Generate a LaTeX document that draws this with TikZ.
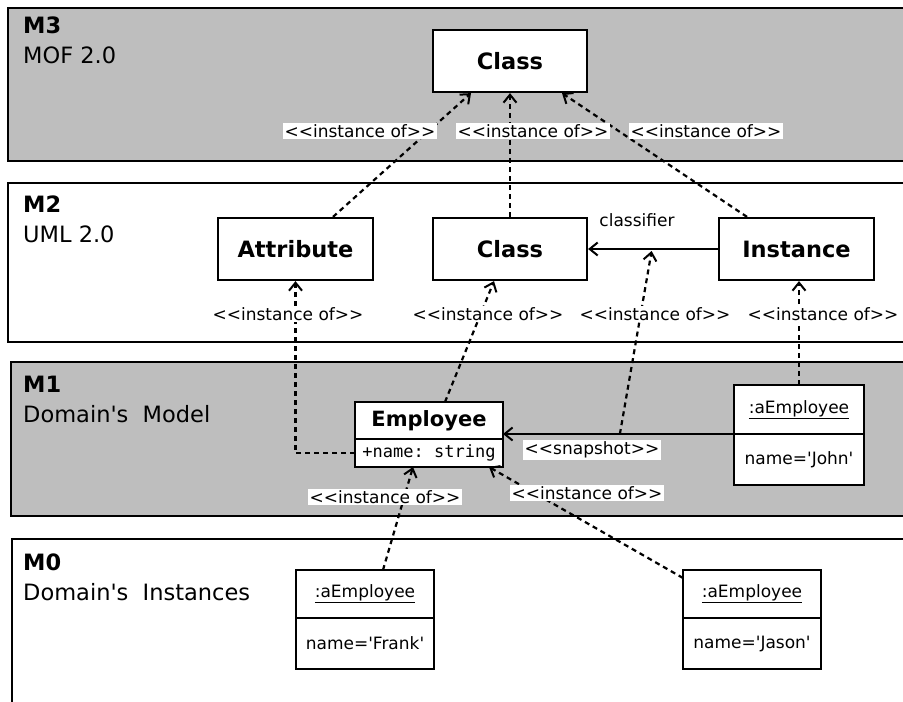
\documentclass[tikz,border=0pt]{standalone}
\usepackage{fontspec}
\setmainfont{DejaVu Sans}[Ligatures=TeXOff]
\setmonofont{DejaVu Sans Mono}[Ligatures=TeXOff]
\usetikzlibrary{arrows.meta,calc}
\definecolor{bandgray}{RGB}{190,190,190}
\tikzset{
  band/.style={draw=black,line width=2.5pt},
  bigbox/.style={draw=black,fill=white,line width=2.2pt,minimum width=154pt,minimum height=62pt,inner sep=0pt,font=\fontsize{22.5}{27}\selectfont\bfseries},
  objpart/.style={draw=black,fill=white,line width=2.2pt,inner sep=0pt,outer sep=0pt,font=\fontsize{17}{20}\selectfont},
  head/.style={anchor=base west,inner sep=0pt,font=\fontsize{22.5}{27}\selectfont},
  lbl/.style={fill=white,inner xsep=2pt,inner ysep=1.5pt,font=\fontsize{17}{20}\selectfont},
  plainlbl/.style={inner sep=0pt,font=\fontsize{17}{20}\selectfont},
  tipv/.style={-{Straight Barb[length=8pt,width=13pt,line width=2pt]}},
  dep/.style={tipv,line width=2.2pt,dash pattern=on 5pt off 4pt},
  assoc/.style={tipv,line width=2.2pt}
}
\begin{document}
\begin{tikzpicture}[x=1pt,y=-1pt]
\clip (0,0) rectangle (903,702);
\fill[white] (0,0) rectangle (903,702);
% bands
\draw[band,fill=bandgray] (8,8) rectangle (920,161);
\draw[band,fill=white] (8,183) rectangle (920,342);
\draw[band,fill=bandgray] (11,362) rectangle (920,516);
\draw[band,fill=white] (12,539) rectangle (920,720);
% headings
\node[head,font=\fontsize{22.5}{27}\selectfont\bfseries] (m3) at (23,33) {M3};
\node[head] (m3t) at (23,63) {MOF 2.0};
\node[head,font=\fontsize{22.5}{27}\selectfont\bfseries] (m2) at (23,212) {M2};
\node[head] (m2t) at (23,242) {UML 2.0};
\node[head,font=\fontsize{22.5}{27}\selectfont\bfseries] (m1) at (23,392) {M1};
\node[head] (m1t) at (23,422) {Domain's\ \ Model};
\node[head,font=\fontsize{22.5}{27}\selectfont\bfseries] (m0) at (23,570) {M0};
\node[head] (m0t) at (23,600) {Domain's\ \ Instances};
% M3 / M2 boxes
\node[bigbox] (class3) at (510,61) {Class};
\node[bigbox,minimum width=155pt] (attr) at (295.5,249) {Attribute};
\node[bigbox] (class2) at (510,249) {Class};
\node[bigbox,minimum width=155pt] (inst) at (796.5,249) {Instance};
% Employee class
\node[objpart,minimum width=148pt,minimum height=37pt,font=\fontsize{21}{25}\selectfont\bfseries] (empH) at (429,420.5) {Employee};
\node[objpart,minimum width=148pt,minimum height=28pt,anchor=north,font=\fontsize{17}{20}\selectfont\ttfamily] (empA) at (empH.south) {+name: string};
% John object
\node[objpart,minimum width=130pt,minimum height=49pt] (johnH) at (799,409.5) {\underline{:aEmployee}};
\node[objpart,minimum width=130pt,minimum height=51pt,anchor=north] (johnB) at (johnH.south) {name='John'};
% Frank object
\node[objpart,minimum width=138pt,minimum height=48pt] (frankH) at (365,594) {\underline{:aEmployee}};
\node[objpart,minimum width=138pt,minimum height=51pt,anchor=north] (frankB) at (frankH.south) {name='Frank'};
% Jason object
\node[objpart,minimum width=138pt,minimum height=48pt] (jasonH) at (752,594) {\underline{:aEmployee}};
\node[objpart,minimum width=138pt,minimum height=51pt,anchor=north] (jasonB) at (jasonH.south) {name='Jason'};
% M2 -> M3
\draw[dep] ([xshift=37.5pt]attr.north) -- ([xshift=-39pt]class3.south);
\draw[dep] (class2.north) -- (class3.south);
\draw[dep] ([xshift=-49.5pt]inst.north) -- ([xshift=52pt]class3.south);
% classifier
\draw[assoc] (inst.west) -- coordinate[pos=0.508] (clsp) (class2.east);
\node[plainlbl] (clslbl) at (637,220) {classifier};
% snapshot
\draw[assoc] (johnH.south west) -- coordinate[pos=0.494] (snp) (johnH.south west -| empH.east);
\node[lbl] (snaplbl) at (592,450) {<<snapshot>>};
\draw[dep,shorten >=2pt] (snp) -- (clsp);
% M1 -> M2
\draw[dep] (empA.west) -| (attr.south);
\draw[dep] ([xshift=16pt]empH.north) -- ([xshift=-16pt]class2.south);
\draw[dep] (johnH.north) -- (johnH.north |- inst.south);
% M0 -> M1
\draw[dep] ([xshift=18pt]frankH.north) -- ([xshift=-16pt]empA.south);
\draw[dep] ([yshift=-8pt]jasonH.north west) -- ([xshift=60pt]empA.south);
% labels
\node[lbl] (l1) at (360,131) {<<instance of>>};
\node[lbl] (l2) at (533,131) {<<instance of>>};
\node[lbl] (l3) at (706,131) {<<instance of>>};
\node[lbl] (l4) at (288,314) {<<instance of>>};
\node[lbl] (l5) at (488,314) {<<instance of>>};
\node[lbl] (l6) at (655,314) {<<instance of>>};
\node[lbl] (l7) at (823,314) {<<instance of>>};
\node[lbl] (l8) at (385,497) {<<instance of>>};
\node[lbl] (l9) at (587,493) {<<instance of>>};
\end{tikzpicture}
\end{document}
